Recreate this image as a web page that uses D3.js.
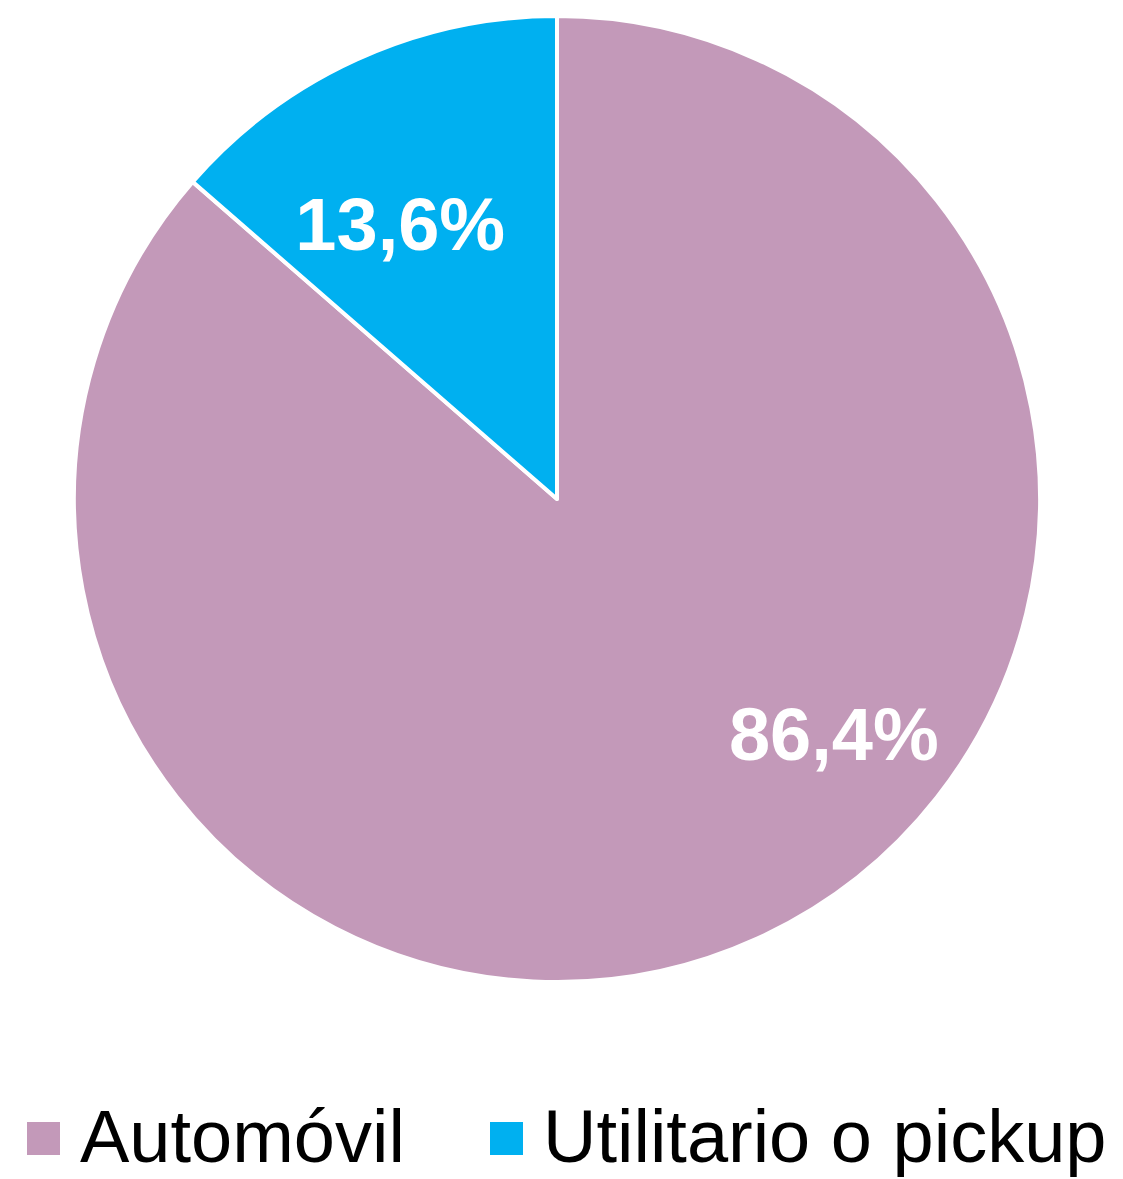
<!DOCTYPE html>
<html>
  <head>
    <meta charset="utf-8" />
    <script src="https://d3js.org/d3.v7.min.js"></script>
    <style>
      body { margin: 0; background: #fff; }
      svg { display: block; font-family: "Liberation Sans", Arial, sans-serif; }
    </style>
  </head>
  <body>
    <svg id="chart"></svg>
    <script>
      // data
      var categories = ["Automóvil", "Utilitario o pickup"];
      var values = [86.4, 13.6];
      var labels = ["86,4%", "13,6%"];
      var colors = ["#C399B9", "#00B0F0"];

      var width = 1123, height = 1179;
      var cx = 557, cy = 499, radius = 483;

      var svg = d3.select("#chart").attr("width", width).attr("height", height);

      var pie = d3.pie().sort(null).value(function (d) { return d; });
      var arcs = pie(values);

      var arc = d3.arc().innerRadius(0).outerRadius(radius);

      var g = svg.append("g").attr("transform", "translate(" + cx + "," + cy + ")");

      g.selectAll("path")
        .data(arcs)
        .enter()
        .append("path")
        .attr("d", arc)
        .attr("fill", function (d, i) { return colors[i]; })
        .attr("stroke", "#fff")
        .attr("stroke-width", 4)
        .attr("stroke-linejoin", "round");

      // label placement (angle offset from slice middle, distance)
      var labelPos = [
        { da: -0.44, dist: 363 },
        { da: -0.09, dist: 317 }
      ];

      g.selectAll("text.lbl")
        .data(arcs)
        .enter()
        .append("text")
        .attr("class", "lbl")
        .attr("x", function (d, i) {
          var a = (d.startAngle + d.endAngle) / 2 + labelPos[i].da;
          return Math.sin(a) * labelPos[i].dist;
        })
        .attr("y", function (d, i) {
          var a = (d.startAngle + d.endAngle) / 2 + labelPos[i].da;
          return -Math.cos(a) * labelPos[i].dist;
        })
        .attr("dy", "0.36em")
        .attr("text-anchor", "middle")
        .attr("fill", "#fff")
        .attr("font-weight", "bold")
        .attr("font-size", 74)
        .text(function (d, i) { return labels[i]; });

      // legend
      var legendX = [27, 490];
      var legend = svg.append("g");
      var item = legend.selectAll("g")
        .data(categories)
        .enter()
        .append("g")
        .attr("transform", function (d, i) { return "translate(" + legendX[i] + ",1122)"; });

      item.append("rect")
        .attr("width", 33)
        .attr("height", 33)
        .attr("fill", function (d, i) { return colors[i]; });

      item.append("text")
        .attr("x", 53)
        .attr("y", 40)
        .attr("font-size", 74)
        .attr("fill", "#000")
        .text(function (d) { return d; });
    </script>
  </body>
</html>
